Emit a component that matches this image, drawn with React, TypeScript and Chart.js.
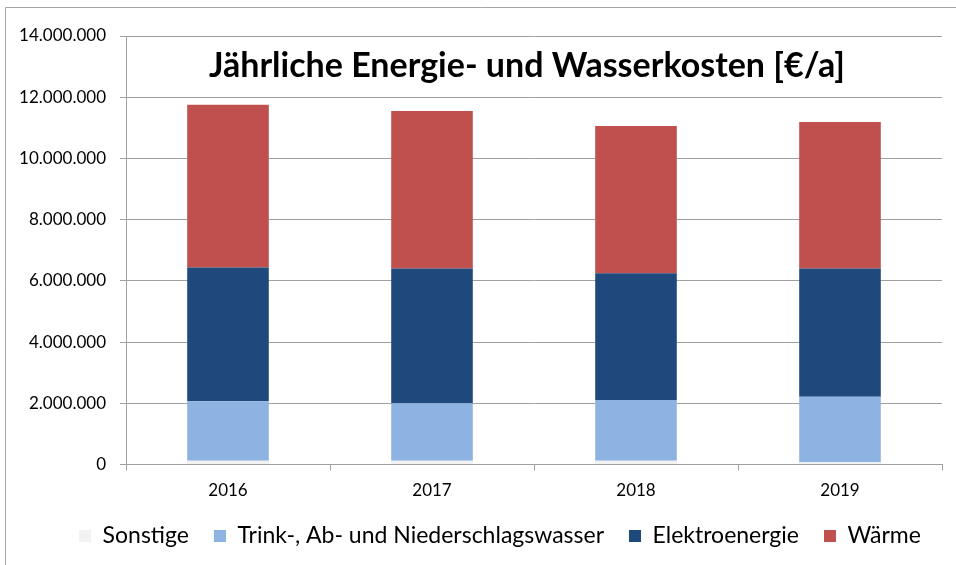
import React, { useEffect, useRef } from "react";
import { Chart, registerables } from "chart.js";

Chart.register(...registerables);

const years = ["2016", "2017", "2018", "2019"];
const sonstige = [120000, 120000, 120000, 70000];
const wasser = [1950000, 1880000, 1990000, 2140000];
const elektro = [4370000, 4400000, 4140000, 4190000];
const waerme = [5310000, 5150000, 4810000, 4790000];
const yTicks = [0, 2000000, 4000000, 6000000, 8000000, 10000000, 12000000, 14000000];
const titleText = "Jährliche Energie- und Wasserkosten [€/a]";

const FONT = "Lato, 'Open Sans', sans-serif";
const LEGEND_PAD = 25;

function fmt(v: number): string {
  return String(Math.round(v)).replace(/\B(?=(\d{3})+(?!\d))/g, ".");
}

export default function App() {
  const ref = useRef<HTMLCanvasElement | null>(null);

  useEffect(() => {
    document.body.style.margin = "0";
    const canvas = ref.current;
    if (!canvas) return;

    const legendShift = {
      id: "legendShift",
      afterLayout(chart: any) {
        const lg = chart.legend;
        if (!lg) return;
        // place legend row centre at y≈536 and x≈500
        const targetTop = 536 - LEGEND_PAD - 11.5;
        const dy = targetTop - lg.top;
        lg.top += dy;
        lg.bottom += dy;
        const dx = 500 - (lg.left + lg.right) / 2;
        lg.left += dx;
        lg.right += dx;
      },
    };

    const decor = {
      id: "decor",
      afterDraw(chart: any) {
        const ctx = chart.ctx;
        ctx.save();
        ctx.strokeStyle = "#a6a6a6";
        ctx.lineWidth = 1;
        ctx.beginPath();
        ctx.moveTo(5.5, 2000);
        ctx.lineTo(5.5, 7.5);
        ctx.lineTo(2000, 7.5);
        ctx.stroke();
        ctx.fillStyle = "#000000";
        ctx.font = "bold 34px " + FONT;
        ctx.textAlign = "center";
        ctx.textBaseline = "alphabetic";
        ctx.fillText(titleText, 527, 77);
        ctx.restore();
      },
    };

    const chart = new Chart(canvas, {
      type: "bar",
      data: {
        labels: years,
        datasets: [
          { label: "Sonstige", data: sonstige, backgroundColor: "#f2f2f2" },
          { label: "Trink-, Ab- und Niederschlagswasser", data: wasser, backgroundColor: "#8db3e2" },
          { label: "Elektroenergie", data: elektro, backgroundColor: "#1f497d" },
          { label: "Wärme", data: waerme, backgroundColor: "#c0504d" },
        ],
      },
      options: {
        animation: false,
        responsive: false,
        maintainAspectRatio: false,
        datasets: {
          bar: { barPercentage: 0.8, categoryPercentage: 0.5 },
        } as any,
        layout: { padding: { left: 0, right: 14, top: 36, bottom: 0.5 } },
        plugins: {
          title: { display: false },
          tooltip: { enabled: false },
          legend: {
            position: "bottom",
            maxHeight: 50,
            labels: {
              boxWidth: 12,
              boxHeight: 12,
              padding: LEGEND_PAD,
              color: "#000000",
              font: { family: FONT, size: 23 },
            },
          },
        },
        scales: {
          x: {
            stacked: true,
            offset: true,
            grid: {
              offset: true,
              drawOnChartArea: false,
              drawTicks: true,
              tickLength: 6,
              color: "#a0a0a0",
            },
            border: { display: true, color: "#a0a0a0", width: 1 },
            ticks: {
              color: "#000000",
              padding: 10,
              font: { family: FONT, size: 17 },
            },
            afterFit(scale: any) {
              scale.height = 50;
            },
          },
          y: {
            stacked: true,
            min: 0,
            max: 14000000,
            afterBuildTicks(scale: any) {
              scale.ticks = yTicks.map((v) => ({ value: v }));
            },
            grid: {
              color: "#a0a0a0",
              drawTicks: true,
              tickLength: 6,
            },
            border: { display: true, color: "#a0a0a0", width: 1 },
            ticks: {
              color: "#000000",
              padding: 14,
              font: { family: FONT, size: 17 },
              callback: (v: any) => fmt(Number(v)),
            },
            afterFit(scale: any) {
              scale.width = 126;
            },
          },
        },
      },
      plugins: [legendShift, decor],
    });

    return () => chart.destroy();
  }, []);

  return (
    <div style={{ width: 956, height: 565, background: "#ffffff" }}>
      <canvas ref={ref} width={956} height={565} style={{ display: "block" }} />
    </div>
  );
}
